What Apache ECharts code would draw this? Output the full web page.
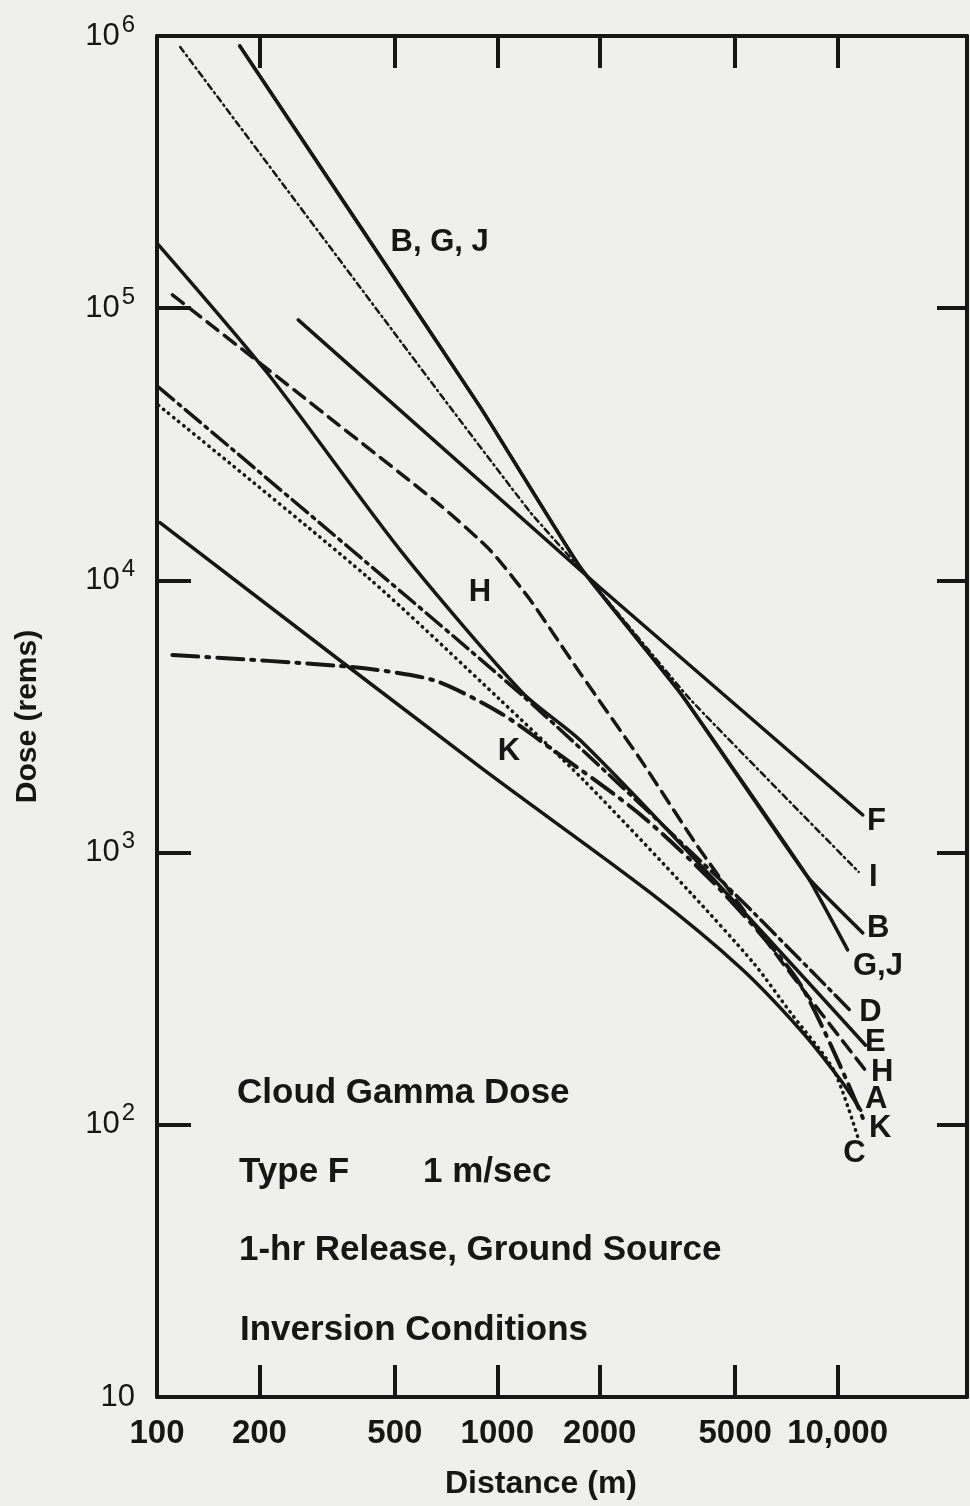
<!DOCTYPE html>
<html>
<head>
<meta charset="utf-8">
<title>Cloud Gamma Dose</title>
<script src="https://cdn.jsdelivr.net/npm/echarts@6/dist/echarts.min.js"></script>
<style>
  html, body { margin: 0; padding: 0; background: #efefed; }
  #chart { width: 970px; height: 1506px; }
</style>
</head>
<body>
<div id="chart"></div>
<script>
// distance (m) / dose (rems) pairs
const bDist = [175, 891, 1750, 3450, 8170, 11860];
const bDose = [9.2e5, 4.33e4, 1.12e4, 3860, 813, 507];
const gjDist = [175, 891, 1750, 3450, 8170, 10700];
const gjDose = [9.2e5, 4.33e4, 1.12e4, 3860, 813, 439];
const iDist = [117, 666, 1250, 1880, 3700, 11530];
const iDose = [9.11e5, 5.0e4, 1.78e4, 1.0e4, 3640, 849];
const fDist = [260, 2010, 11860];
const fDose = [9.06e4, 9380, 1375];
const eDist = [101, 211, 519, 1190, 1750, 3950, 12080];
const eDose = [1.71e5, 5.78e4, 1.29e4, 3850, 2590, 900, 196];
const hDist = [111, 264, 679, 953, 1250, 1750, 2640, 3950, 6790, 12240];
const hDose = [1.12e5, 4.80e4, 1.89e4, 1.29e4, 8470, 4570, 2190, 1020, 403, 155];
const dDist = [101, 1190, 4530, 11060];
const dDose = [5.13e4, 3760, 793, 258];
const cDist = [101, 415, 1020, 1790, 3700, 5660, 7280, 9730, 11530];
const cDose = [4.4e4, 1.03e4, 3640, 1850, 711, 393, 258, 159, 88];
const aDist = [102, 891, 2820, 5190, 7780, 10200, 11700];
const aDose = [1.63e4, 2060, 711, 377, 223, 146, 113];
const kDist = [111, 370, 649, 1020, 1460, 2640, 4530, 7780, 11860];
const kDose = [5320, 4810, 4300, 3260, 2380, 1375, 729, 327, 106];

// curve labels
const labelText = ['B, G, J', 'H', 'K', 'F', 'I', 'B', 'G,J', 'D', 'E', 'H', 'A', 'K', 'C'];
const labelDist = [484, 822, 1000, 12160, 12330, 12160, 11060, 11530, 12000, 12500, 12000, 12330, 10350];
const labelDose = [1.75e5, 9060, 2345, 1306, 813, 528, 383, 258, 200, 156, 124, 96.6, 78.2];

// axis ticks
const xLabelValues = [100, 200, 500, 1000, 2000, 5000, 10000];
const xTickValues = [200, 500, 1000, 2000, 5000, 10000];
const xMin = 100;
const xMax = 24000;
const yMin = 10;
const yMax = 1e6;

const INK = '#161616';
const FONT = '"Liberation Sans", Arial, Helvetica, sans-serif';

const chart = echarts.init(document.getElementById('chart'));
const zip = (xs, ys) => xs.map((x, i) => [x, ys[i]]);

function curve(name, xs, ys, dash, width, smooth) {
  return {
    name: name,
    type: 'line',
    data: zip(xs, ys),
    symbol: 'none',
    smooth: smooth || false,
    silent: true,
    lineStyle: { color: INK, width: width, type: dash, cap: 'round' }
  };
}

const logXAxis = (pos, extra) => Object.assign({
  type: 'log', logBase: 10, min: xMin, max: xMax, position: pos,
  axisLine: { show: true, lineStyle: { color: INK, width: 4 } },
  axisTick: { show: false }, axisLabel: { show: false }, splitLine: { show: false }
}, extra);

const tickXAxis = (pos, withLabels) => ({
  type: 'value', min: 2, max: Math.log10(xMax), position: pos,
  axisLine: { show: false },
  axisTick: {
    show: true, inside: true, length: 32,
    lineStyle: { color: INK, width: 4 },
    customValues: xTickValues.map(Math.log10)
  },
  axisLabel: withLabels ? {
    show: true, margin: 20, fontSize: 33, fontWeight: 'bold', fontFamily: FONT, color: INK,
    customValues: xLabelValues.map(Math.log10),
    formatter: (v) => {
      const n = Math.round(Math.pow(10, v));
      return n === 10000 ? '10,000' : String(n);
    }
  } : { show: false },
  splitLine: { show: false }
});

const option = {
  backgroundColor: '#efefed',
  animation: false,
  grid: { left: 157, right: 3, top: 36, bottom: 109, containLabel: false },
  xAxis: [
    logXAxis('bottom', {
      name: 'Distance (m)', nameLocation: 'middle', nameGap: 71,
      nameTextStyle: { fontSize: 32, fontWeight: 'bold', fontFamily: FONT, color: INK, padding: [0, 42, 0, 0] }
    }),
    logXAxis('top'),
    tickXAxis('bottom', true),
    tickXAxis('top', false)
  ],
  yAxis: [
    {
      type: 'log', logBase: 10, min: yMin, max: yMax, position: 'left',
      axisLine: { show: true, lineStyle: { color: INK, width: 4 } },
      axisTick: { show: true, inside: true, length: 34, lineStyle: { color: INK, width: 4 } },
      axisLabel: {
        margin: 22, color: INK, fontFamily: FONT, fontSize: 31,
        formatter: (v) => {
          const e = Math.round(Math.log10(v));
          return e === 1 ? '10' : '10{sup|' + e + '}';
        },
        rich: { sup: { fontSize: 24, fontFamily: FONT, color: INK, padding: [0, 0, 22, 2] } }
      },
      splitLine: { show: false },
      name: 'Dose (rems)', nameLocation: 'middle', nameGap: 114, nameRotate: 90,
      nameTextStyle: { fontSize: 30, fontWeight: 'bold', fontFamily: FONT, color: INK }
    },
    {
      type: 'log', logBase: 10, min: yMin, max: yMax, position: 'right',
      axisLine: { show: true, lineStyle: { color: INK, width: 4 } },
      axisTick: { show: true, inside: true, length: 30, lineStyle: { color: INK, width: 4 } },
      axisLabel: { show: false }, splitLine: { show: false }
    }
  ],
  graphic: [
    ['Cloud Gamma Dose', 237, 1093],
    ['Type F', 239, 1172],
    ['1 m/sec', 423, 1172],
    ['1-hr Release, Ground Source', 239, 1250],
    ['Inversion Conditions', 240, 1330]
  ].map(([t, x, y]) => ({
    type: 'text', x: x, y: y,
    style: { text: t, fontSize: 35, fontWeight: 'bold', fontFamily: FONT, fill: INK, verticalAlign: 'middle' }
  })),
  series: [
    curve('B', bDist, bDose, 'solid', 3.5, 0.1),
    curve('G,J', gjDist, gjDose, 'solid', 3.5, 0.1),
    curve('I', iDist, iDose, [6, 4, 1.5, 4], 2.5, 0.1),
    curve('F', fDist, fDose, 'solid', 3.5),
    curve('E', eDist, eDose, 'solid', 3.5, 0.25),
    curve('H', hDist, hDose, [14, 8], 3.5, 0.2),
    curve('D', dDist, dDose, [20, 6, 3, 6], 3.5, 0.2),
    curve('C', cDist, cDose, [0.5, 6], 3.5, 0.25),
    curve('A', aDist, aDose, 'solid', 3.5, 0.3),
    curve('K', kDist, kDose, [26, 8, 3, 8], 4, 0.25),
    {
      name: 'labels',
      type: 'scatter',
      silent: true,
      symbolSize: 1,
      itemStyle: { color: 'rgba(0,0,0,0)', opacity: 1 },
      data: labelText.map((t, i) => [labelDist[i], labelDose[i], t]),
      label: {
        show: true, position: 'right', distance: 0, opacity: 1,
        formatter: (p) => p.data[2],
        fontSize: 31, fontWeight: 'bold', fontFamily: FONT, color: INK
      }
    }
  ]
};

chart.setOption(option);
</script>
</body>
</html>
